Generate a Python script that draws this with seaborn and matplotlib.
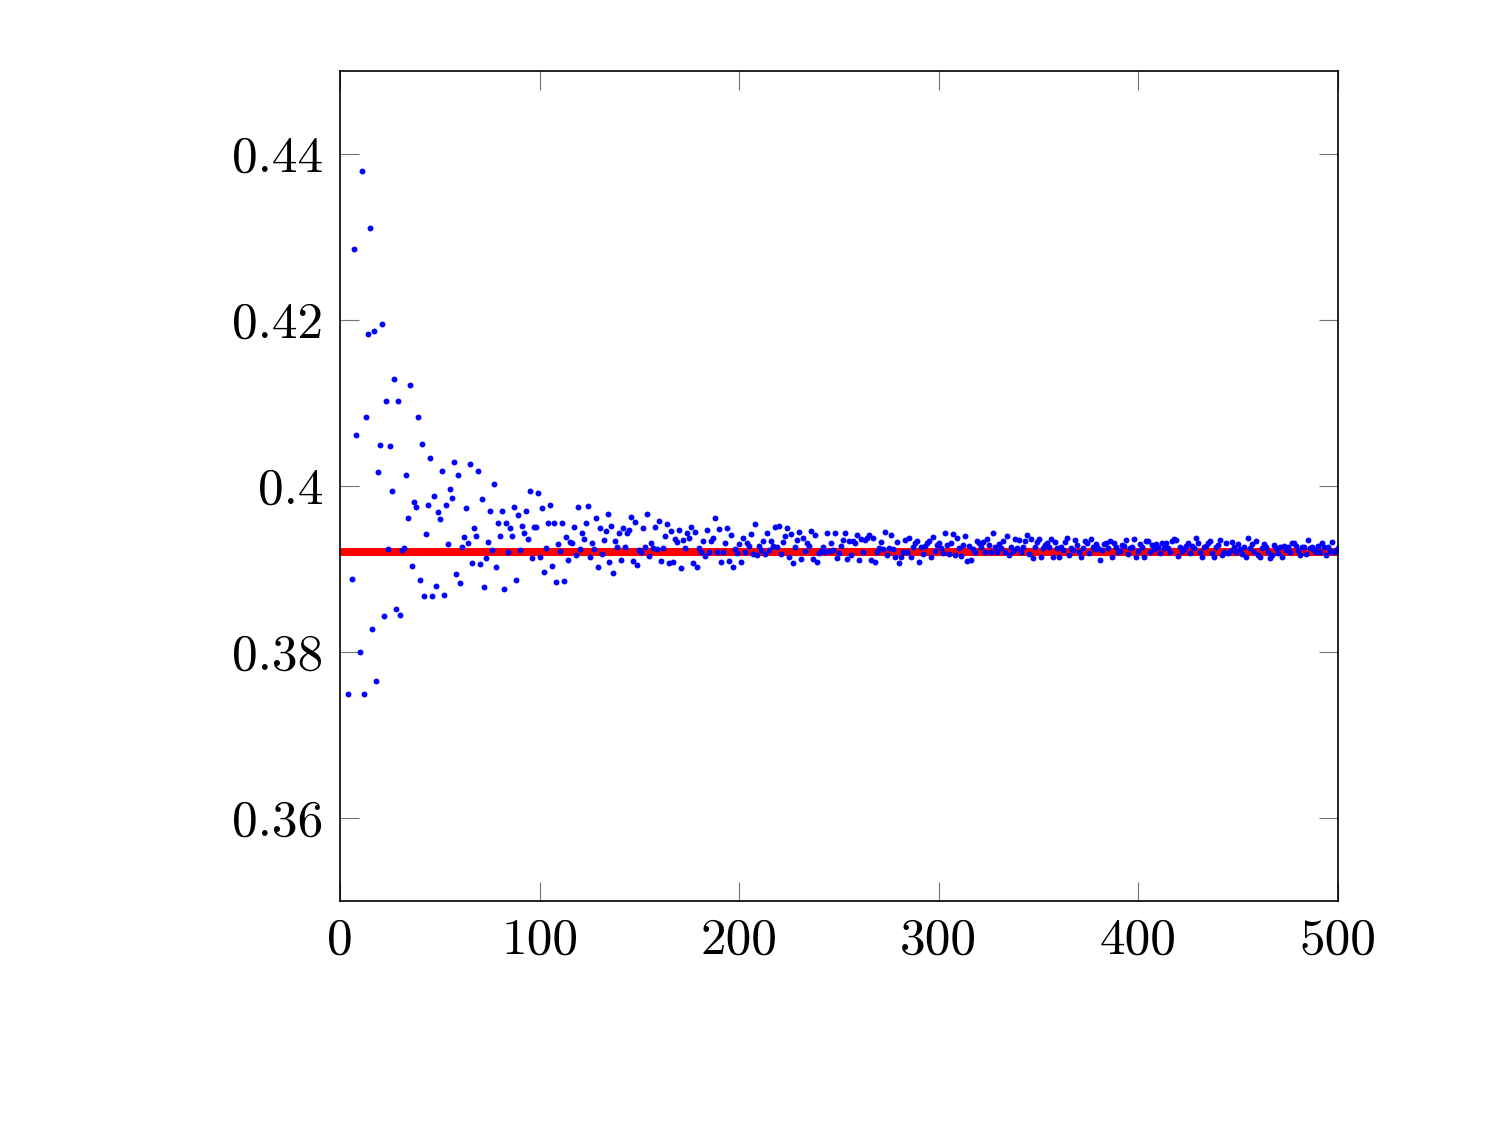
import numpy as np
import pandas as pd
import matplotlib
matplotlib.use("Agg")
import matplotlib.pyplot as plt
from matplotlib.ticker import FuncFormatter
import seaborn as sns

# estimate per sample size n (n = 4 .. 500)
est_004_060 = [
    0.3750, np.nan, 0.3888, 0.4285, 0.4062, np.nan, 0.3800, 0.4380, 0.3750, 0.4083,
    0.4183, 0.4311, 0.3828, 0.4187, 0.3765, 0.4017, 0.4050, 0.4195, 0.3843, 0.4102,
    0.3924, 0.4048, 0.3994, 0.4129, 0.3852, 0.4102, 0.3845, 0.3923, 0.3925, 0.4013,
    0.3962, 0.4122, 0.3904, 0.3981, 0.3975, 0.4083, 0.3887, 0.4051, 0.3867, 0.3942,
    0.3977, 0.4034, 0.3867, 0.3988, 0.3880, 0.3969, 0.3960, 0.4018, 0.3869, 0.3977,
    0.3930, 0.3997, 0.3986, 0.4029, 0.3894, 0.4013, 0.3883,
]
est_061_124 = [
    0.3926, 0.3939, 0.3973, 0.3931, 0.4026, 0.3907, 0.3949, 0.3940, 0.4018, 0.3906,
    0.3985, 0.3878, 0.3913, 0.3933, 0.3970, 0.3923, 0.4002, 0.3902, 0.3956, 0.3940,
    0.3970, 0.3876, 0.3956, 0.3920, 0.3949, 0.3940, 0.3975, 0.3887, 0.3965, 0.3923,
    0.3952, 0.3944, 0.3970, 0.3936, 0.3994, 0.3913, 0.3951, 0.3951, 0.3992, 0.3914,
    0.3973, 0.3896, 0.3925, 0.3955, 0.3977, 0.3904, 0.3955, 0.3884, 0.3930, 0.3922,
    0.3955, 0.3886, 0.3939, 0.3911, 0.3933, 0.3931, 0.3951, 0.3917, 0.3975, 0.3924,
    0.3943, 0.3936, 0.3956, 0.3976,
]
est_125_186 = [
    0.3914, 0.3931, 0.3924, 0.3962, 0.3902, 0.3949, 0.3918, 0.3935, 0.3946, 0.3966,
    0.3909, 0.3952, 0.3895, 0.3934, 0.3927, 0.3944, 0.3911, 0.3950, 0.3926, 0.3943,
    0.3947, 0.3963, 0.3910, 0.3957, 0.3905, 0.3923, 0.3921, 0.3949, 0.3927, 0.3966,
    0.3916, 0.3931, 0.3925, 0.3951, 0.3924, 0.3958, 0.3910, 0.3925, 0.3940, 0.3954,
    0.3907, 0.3946, 0.3908, 0.3936, 0.3933, 0.3947, 0.3901, 0.3935, 0.3925, 0.3944,
    0.3938, 0.3951, 0.3907, 0.3945, 0.3902, 0.3925, 0.3920, 0.3934, 0.3916, 0.3947,
    0.3920, 0.3934,
]
est_187_248 = [
    0.3937, 0.3961, 0.3920, 0.3948, 0.3908, 0.3920, 0.3932, 0.3950, 0.3910, 0.3941,
    0.3902, 0.3924, 0.3919, 0.3930, 0.3908, 0.3937, 0.3920, 0.3931, 0.3928, 0.3942,
    0.3918, 0.3954, 0.3917, 0.3928, 0.3923, 0.3934, 0.3918, 0.3943, 0.3923, 0.3934,
    0.3928, 0.3951, 0.3927, 0.3952, 0.3918, 0.3933, 0.3940, 0.3950, 0.3915, 0.3942,
    0.3907, 0.3927, 0.3935, 0.3945, 0.3912, 0.3938, 0.3922, 0.3932, 0.3928, 0.3946,
    0.3912, 0.3941, 0.3908, 0.3919, 0.3922, 0.3926, 0.3920, 0.3943, 0.3922, 0.3931,
    0.3923, 0.3944,
]
est_249_330 = [
    0.3913, 0.3919, 0.3928, 0.3935, 0.3944, 0.3912, 0.3934, 0.3917, 0.3934, 0.3932,
    0.3941, 0.3911, 0.3936, 0.3921, 0.3935, 0.3937, 0.3941, 0.3911, 0.3938, 0.3908,
    0.3920, 0.3925, 0.3933, 0.3924, 0.3945, 0.3917, 0.3925, 0.3941, 0.3924, 0.3914,
    0.3933, 0.3907, 0.3915, 0.3921, 0.3935, 0.3920, 0.3938, 0.3915, 0.3926, 0.3932,
    0.3934, 0.3908, 0.3927, 0.3918, 0.3928, 0.3932, 0.3934, 0.3915, 0.3939, 0.3922,
    0.3929, 0.3932, 0.3925, 0.3919, 0.3943, 0.3929, 0.3918, 0.3932, 0.3942, 0.3917,
    0.3937, 0.3925, 0.3916, 0.3929, 0.3940, 0.3910, 0.3928, 0.3911, 0.3924, 0.3921,
    0.3934, 0.3932, 0.3926, 0.3933, 0.3921, 0.3936, 0.3929, 0.3921, 0.3944, 0.3927,
    0.3921, 0.3930,
]
est_331_413 = [
    0.3925, 0.3934, 0.3921, 0.3940, 0.3917, 0.3927, 0.3922, 0.3936, 0.3925, 0.3935,
    0.3921, 0.3927, 0.3934, 0.3941, 0.3918, 0.3936, 0.3913, 0.3927, 0.3933, 0.3936,
    0.3914, 0.3925, 0.3929, 0.3931, 0.3927, 0.3936, 0.3914, 0.3933, 0.3925, 0.3915,
    0.3927, 0.3923, 0.3933, 0.3938, 0.3917, 0.3925, 0.3923, 0.3935, 0.3929, 0.3921,
    0.3915, 0.3925, 0.3934, 0.3932, 0.3919, 0.3936, 0.3927, 0.3924, 0.3930, 0.3925,
    0.3911, 0.3923, 0.3930, 0.3932, 0.3925, 0.3934, 0.3915, 0.3932, 0.3927, 0.3921,
    0.3922, 0.3929, 0.3928, 0.3935, 0.3918, 0.3925, 0.3927, 0.3936, 0.3915, 0.3922,
    0.3930, 0.3926, 0.3915, 0.3934, 0.3934, 0.3921, 0.3929, 0.3924, 0.3930, 0.3927,
    0.3919, 0.3931, 0.3925,
]
est_414_500 = [
    0.3931, 0.3925, 0.3921, 0.3934, 0.3936, 0.3935, 0.3916, 0.3926, 0.3922, 0.3924,
    0.3928, 0.3931, 0.3919, 0.3928, 0.3925, 0.3938, 0.3932, 0.3921, 0.3915, 0.3926,
    0.3928, 0.3932, 0.3934, 0.3919, 0.3915, 0.3926, 0.3929, 0.3935, 0.3917, 0.3921,
    0.3931, 0.3919, 0.3922, 0.3933, 0.3926, 0.3921, 0.3930, 0.3924, 0.3918, 0.3927,
    0.3915, 0.3937, 0.3925, 0.3930, 0.3921, 0.3934, 0.3917, 0.3914, 0.3925, 0.3930,
    0.3927, 0.3921, 0.3913, 0.3917, 0.3929, 0.3925, 0.3919, 0.3926, 0.3915, 0.3928,
    0.3923, 0.3927, 0.3921, 0.3931, 0.3932, 0.3928, 0.3922, 0.3917, 0.3927, 0.3926,
    0.3918, 0.3935, 0.3925, 0.3927, 0.3923, 0.3920, 0.3928, 0.3921, 0.3931, 0.3927,
    0.3917, 0.3926, 0.3922, 0.3933, 0.3921, 0.3923, 0.3925,
]
true_value = 0.392
x_ticks = [0, 100, 200, 300, 400, 500]
y_ticks = [0.36, 0.38, 0.40, 0.42, 0.44]

estimates = (est_004_060 + est_061_124 + est_125_186 + est_187_248
             + est_249_330 + est_331_413 + est_414_500)
n_start = 4
df = pd.DataFrame({"n": np.arange(n_start, n_start + len(estimates)),
                   "estimate": estimates}).dropna()

sns.set_style("white")
plt.rcParams["font.family"] = "serif"
plt.rcParams["font.serif"] = ["cmr10", "DejaVu Serif"]
plt.rcParams["axes.formatter.use_mathtext"] = True
plt.rcParams["text.color"] = "black"
plt.rcParams["xtick.labelcolor"] = "black"
plt.rcParams["ytick.labelcolor"] = "black"

fig = plt.figure(figsize=(15, 11.25), dpi=100)
ax = fig.add_axes([0.2267, 0.199, 0.6653, 0.7379])

# reference value (red) sits under the blue estimates
ax.axhline(true_value, color="#ff0000", linewidth=5.8, zorder=1)
sns.scatterplot(data=df, x="n", y="estimate", ax=ax, color="#0000ff",
                s=18, linewidth=0, zorder=2, legend=False)

ax.set_xlim(0, 500)
ax.set_ylim(0.35, 0.45)
ax.set_xticks(x_ticks)
ax.set_yticks(y_ticks)
ax.yaxis.set_major_formatter(FuncFormatter(lambda v, p: f"{v:g}"))
ax.xaxis.set_major_formatter(FuncFormatter(lambda v, p: f"{v:g}"))
ax.set_xlabel("")
ax.set_ylabel("")

ax.tick_params(axis="both", which="major", direction="in", length=14, width=0.8,
               color="0.45", labelsize=37, labelcolor="black", pad=12,
               top=True, right=True, bottom=True, left=True)
for sp in ax.spines.values():
    sp.set_visible(True)
    sp.set_color("black")
    sp.set_linewidth(1.2)

fig.savefig("out.png", dpi=100)
